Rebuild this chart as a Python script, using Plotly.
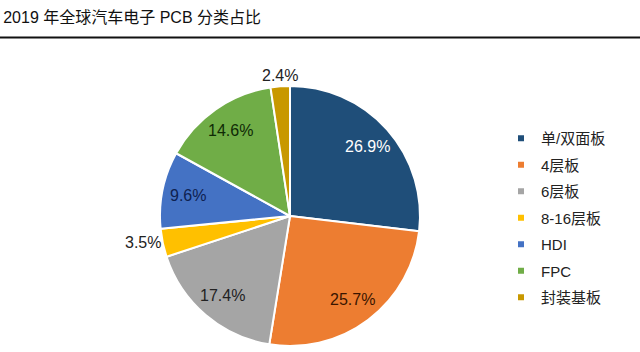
import math
import plotly.graph_objects as go

categories = ["单/双面板", "4层板", "6层板", "8-16层板", "HDI", "FPC", "封装基板"]
values = [26.9, 25.7, 17.4, 3.5, 9.6, 14.6, 2.4]
colors = ["#1F4E79", "#ED7D31", "#A5A5A5", "#FFC000", "#4472C4", "#70AD47", "#C89800"]
text_colors = ["#FFFFFF", "#3A1500", "#222222", "#222222", "#0E2150", "#0F2A05", "#222222"]
label_outside = [False, False, False, True, False, False, True]
title = "2019 年全球汽车电子 PCB 分类占比"

FONT = "Liberation Sans, Arial, Noto Sans CJK SC, sans-serif"
W, H = 640, 352
CX, CY, R = 290, 216, 130  # pie centre / radius in pixels

fig = go.Figure()
fig.add_trace(go.Pie(
    labels=categories, values=values, sort=False, direction="clockwise", rotation=0,
    marker=dict(colors=colors, line=dict(color="white", width=2)),
    textinfo="none",
    domain=dict(x=[(CX - R) / W, (CX + R) / W], y=[(H - CY - R) / H, (H - CY + R) / H]),
    showlegend=False, hoverinfo="label+percent",
))
for i, (c, col) in enumerate(zip(categories, colors)):
    fig.add_trace(go.Scatter(
        x=[None], y=[None], mode="markers", name=c,
        marker=dict(symbol="square", size=6, color=col),
        legendgroup=str(i), showlegend=True,
    ))

# value labels placed along each slice's mid-angle
total = sum(values)
cum = 0.0
for v, tc, out in zip(values, text_colors, label_outside):
    mid = (cum + v / 2) / total * 2 * math.pi
    cum += v
    dx, dy = math.sin(mid), -math.cos(mid)  # screen direction (y down)
    if out:
        rr = R
        xa = "left" if dx > 0.3 else ("right" if dx < -0.3 else "center")
        ya = "top" if dy > 0.3 else ("bottom" if dy < -0.3 else "middle")
    else:
        rr = R * 0.8
        xa, ya = "center", "middle"
    px, py = CX + rr * dx, CY + rr * dy
    fig.add_annotation(x=px / W, y=1 - py / H, xref="paper", yref="paper",
                       text=f"{v:.1f}%", showarrow=False, xanchor=xa, yanchor=ya,
                       font=dict(size=16, color=tc, family=FONT))

fig.add_shape(type="line", xref="paper", yref="paper", x0=0, x1=1,
              y0=1 - 37.5 / H, y1=1 - 37.5 / H, line=dict(color="#111111", width=2))

fig.update_layout(
    width=W, height=H, margin=dict(l=0, r=0, t=0, b=0),
    paper_bgcolor="white", plot_bgcolor="white",
    font=dict(family=FONT, color="#222222"),
    title=dict(text=title, x=0.005, xanchor="left", y=1 - 17 / H, yanchor="middle",
               font=dict(size=16, family=FONT, color="#111111")),
    xaxis=dict(visible=False), yaxis=dict(visible=False),
    legend=dict(x=501 / W, xanchor="left", y=1 - 122 / H, yanchor="top",
                font=dict(size=15, family=FONT, color="#222222"),
                traceorder="grouped", tracegroupgap=4, itemwidth=30,
                bgcolor="rgba(0,0,0,0)"),
)

fig.write_html("out.html")
